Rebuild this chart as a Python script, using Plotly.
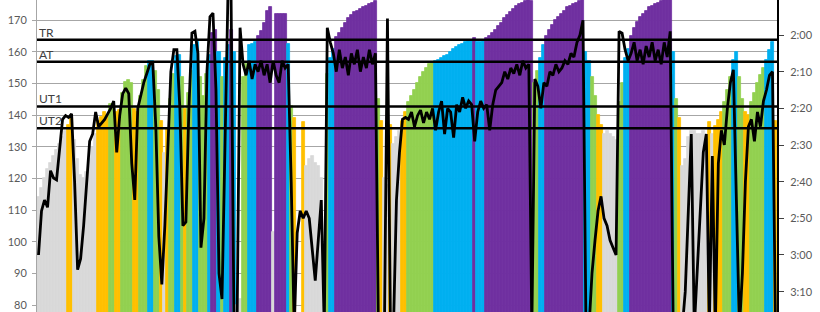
import plotly.graph_objects as go

# Heart rate per sample (bpm), left axis
hr = [114, 117, 120, 123, 125, 127, 129, 131, 133, 135,
      137, 139, 132, 126, 121, 120, 122, 126, 130, 134,
      138, 139.5, 141, 140, 143.5, 143, 141, 141.5, 147, 150.5,
      151, 150, 142, 141, 146, 151, 155.5, 157, 157, 154,
      148, 138, 128, 136, 145, 153, 158.5, 159, 152, 142,
      147, 154, 162, 163, 152, 146, 153, 159, 166, 167,
      160, 152, 158, 162, 167, 160, 80, 82, 152, 156,
      162, 162.5, 163, 165, 166.5, 169, 173, 174, 103, 172,
      172, 172, 172, 162.5, 143, 139, 70, 70, 137.8, 124,
      126, 127, 125, 124, 120, 70, 153, 158, 161, 164.5,
      166, 167.5, 169, 170.5, 171.5, 172.5, 173, 173.5, 174, 174.5,
      175, 175.5, 176, 145, 138, 120, 118, 137, 131, 133,
      135, 138, 141, 144, 146, 148, 150, 152, 153.5, 155,
      156, 156.5, 157, 157.5, 158, 158.5, 159, 160, 161, 161.5,
      162, 162.5, 163, 163.5, 163.6, 164.2, 163, 163.2, 163.5, 164.2,
      165, 166, 167, 168, 169, 170.5, 171.5, 172.5, 173.5, 174.5,
      175, 175.5, 176, 176.3, 176, 150, 154, 158, 162, 165,
      167, 168.5, 170, 171, 172, 173, 174, 174.5, 175, 175.5,
      176, 176.5, 160, 157, 152, 146, 140, 137, 134, 135,
      134, 133, 132, 144, 150, 158, 161, 165, 167.5, 169.5,
      171, 172, 173, 174, 174.5, 175, 175.5, 176, 176.3, 176.5,
      177, 160, 145, 139, 124, 126, 133, 135, 135, 134,
      134, 135, 133, 137.7, 134, 136.5, 138.5, 141, 144, 148,
      152, 157.5, 160, 152, 145, 141, 140, 144, 147, 150,
      152.5, 155, 157.5, 160.5, 163, 138]

# Pace per 500 m (seconds), right axis (reversed)
pace = [180, 168, 165, 167, 157, 159, 159.5, 152, 143, 142,
        142.5, 141.5, 160, 184, 181, 172, 160, 149, 147, 141,
        145, 144, 143, 141.5, 140, 138, 152, 142, 136, 134.5,
        136, 155, 165, 140, 136, 133, 130.5, 128, 127.7, 145,
        175, 188, 172, 150, 130, 124, 124, 140, 172, 171,
        140, 119.5, 119, 125, 178, 170, 130, 115, 114, 135,
        185, 192, 150, 108, 108, 200, 200, 118, 128, 131,
        127, 132, 128, 130, 127, 131, 128, 133, 127, 131,
        133, 127, 129, 128, 160, 200, 174, 168, 170, 168,
        170, 178, 187, 176, 165, 200, 118, 122, 125, 130,
        124, 129, 126, 131, 125, 128, 124, 130, 126, 129,
        124, 128, 125, 200, 200, 200, 115.5, 200, 200, 165,
        152, 143, 142.5, 143, 141, 145, 142, 140.5, 144, 141,
        143, 140, 146, 141, 138, 147, 140, 141, 148, 139,
        141, 137, 140, 138, 139, 149, 141, 138, 140, 139,
        146, 139, 135, 134, 133, 130, 132, 129, 130.5, 128,
        131, 127, 129, 128, 200, 132, 134, 140, 133, 134,
        130, 131, 128, 130, 129, 127, 128, 125, 126, 122,
        120, 116, 200, 200, 185, 176, 168, 164, 170, 172,
        176, 178, 180, 119, 119.5, 124, 127, 125, 122, 127,
        124, 128, 123, 126, 122, 127, 124, 128, 122, 126,
        119, 200, 200, 200, 200, 190, 170, 147, 200, 185,
        167, 152, 147, 200, 153, 200, 155, 146, 150, 140,
        133, 129.5, 165, 200, 185, 160, 145, 143, 149, 141,
        145, 138, 135, 131, 130, 200]

zone_labels = ["UT2", "UT1", "AT", "TR"]
zone_values = [135.8, 142.7, 156.8, 163.8]

hr_ticks = [80, 90, 100, 110, 120, 130, 140, 150, 160, 170]
pace_ticks = [110, 120, 130, 140, 150, 160, 170, 180, 190]
pace_labels = ["1:50", "2:00", "2:10", "2:20", "2:30", "2:40", "2:50", "3:00", "3:10"]

zone_colors = ["#d9d9d9", "#ffc000", "#92d050", "#00b0f0", "#7030a0"]


def color_for(v):
    k = 0
    for t in zone_values:
        if v >= t:
            k += 1
    return zone_colors[k]


idx = list(range(len(hr)))
colors = [color_for(v) for v in hr]

fig = go.Figure()
fig.add_trace(go.Bar(x=idx, y=hr, width=1,
                     marker=dict(color=colors, line=dict(width=0.8, color=colors)),
                     hoverinfo="skip", showlegend=False))
fig.add_trace(go.Scatter(x=idx, y=pace, yaxis="y2", mode="lines",
                         line=dict(color="black", width=2.8), hoverinfo="skip", showlegend=False))

for name, val in zip(zone_labels, zone_values):
    fig.add_shape(type="line", xref="paper", x0=0, x1=1, yref="y", y0=val, y1=val,
                  line=dict(color="black", width=2.5), layer="above")
    fig.add_annotation(text=name, xref="paper", x=0, xanchor="left", xshift=0,
                       yref="y", y=val, yanchor="bottom", yshift=-2, showarrow=False,
                       font=dict(family="Lato", size=12, color="#404040"))

font = dict(family="Lato", size=11, color="#595959")
fig.update_layout(
    width=820, height=312,
    margin=dict(l=37, r=43, t=0, b=0),
    paper_bgcolor="white", plot_bgcolor="white",
    bargap=0, showlegend=False,
    xaxis=dict(range=[-0.5, len(hr) - 0.5], visible=False, automargin=False),
    yaxis=dict(range=[77.79, 176.32], tickvals=hr_ticks, showgrid=True, gridcolor="#a6a6a6",
               gridwidth=1, showline=True, linecolor="#a6a6a6", linewidth=1,
               ticks="outside", ticklen=4, tickcolor="#a6a6a6", tickfont=font,
               zeroline=False, automargin=False, ticklabelstandoff=3),
    yaxis2=dict(overlaying="y", side="right", range=[195.55, 110.45], tickvals=pace_ticks,
                ticktext=pace_labels, showgrid=False, showline=True, linecolor="black",
                linewidth=2, ticks="outside", ticklen=5, tickcolor="#404040", tickfont=font,
                zeroline=False, automargin=False, ticklabelstandoff=4),
)

fig.write_html("out.html")
